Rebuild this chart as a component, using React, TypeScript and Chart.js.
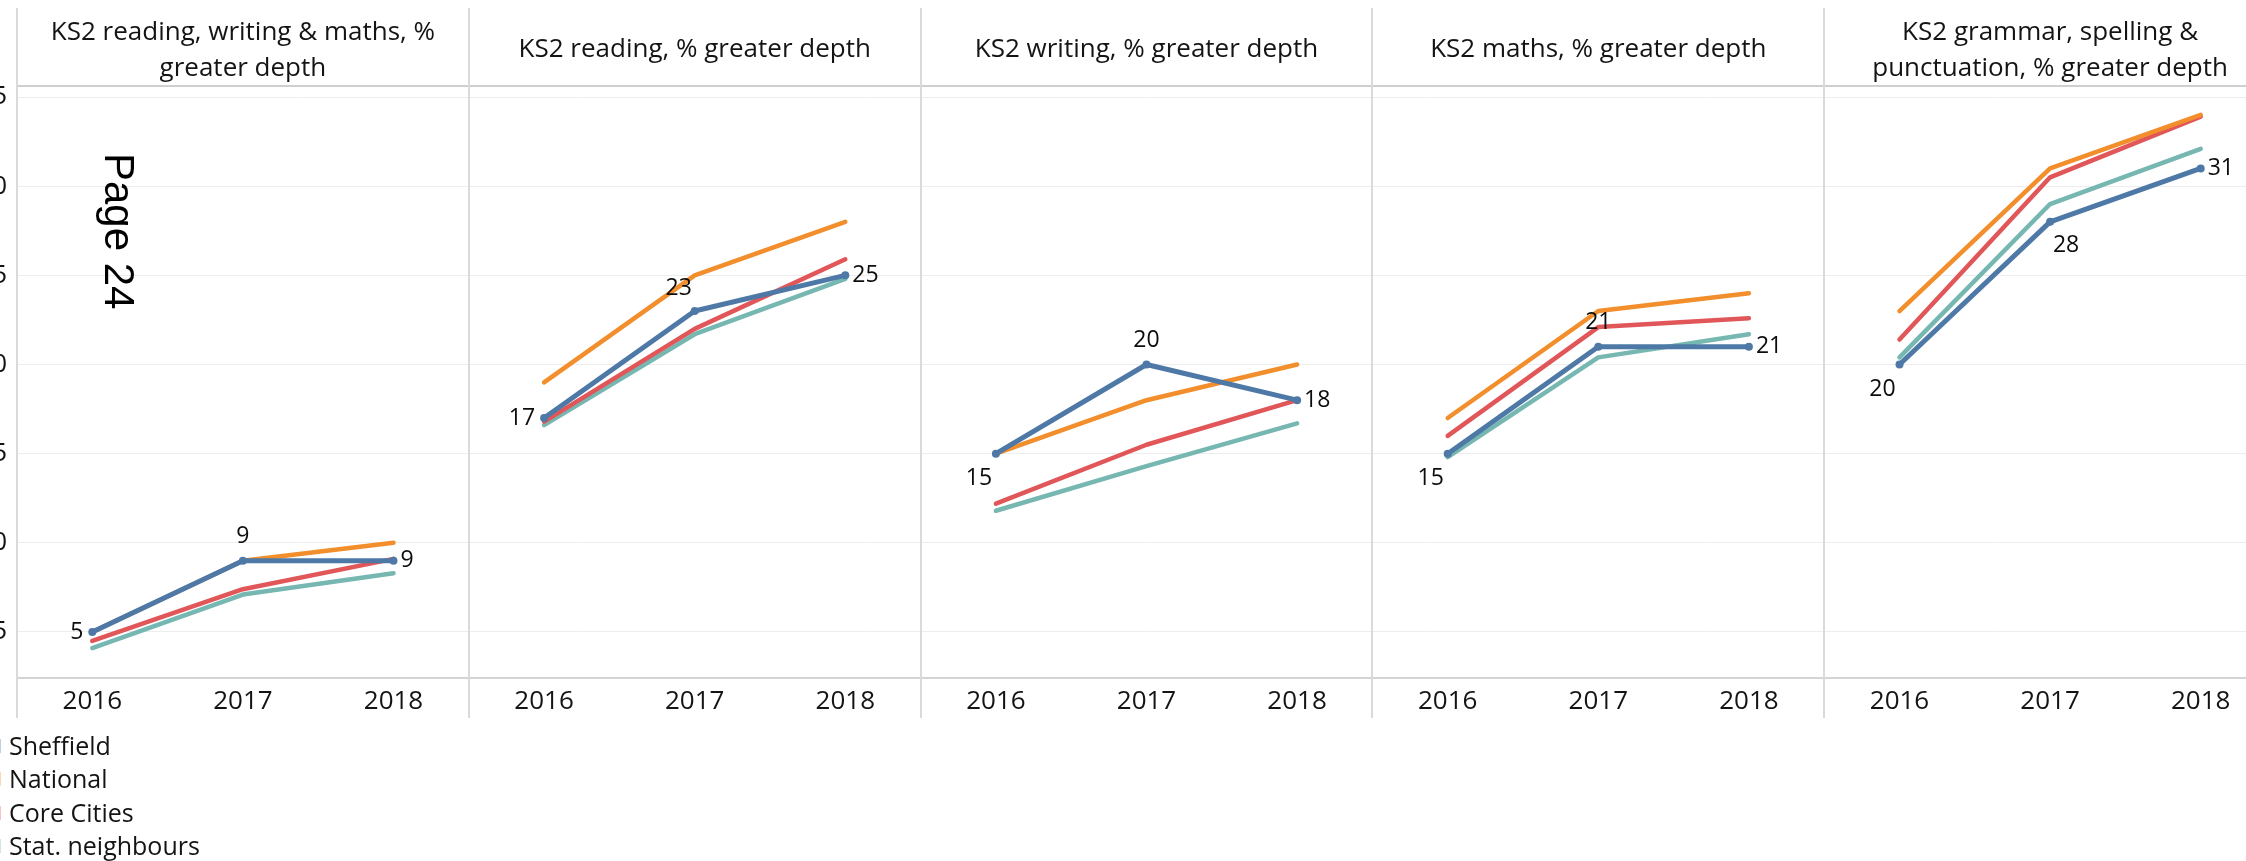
import React, { useEffect, useRef } from "react";
import { Chart, registerables } from "chart.js";

Chart.register(...registerables);

// ---------- data ----------
const years = ["2016", "2017", "2018"];
const panelTitles = [
  ["KS2 reading, writing & maths, %", "greater depth"],
  ["KS2 reading, % greater depth"],
  ["KS2 writing, % greater depth"],
  ["KS2 maths, % greater depth"],
  ["KS2 grammar, spelling &", "punctuation, % greater depth"],
];
const seriesNames = ["Sheffield", "National", "Core Cities", "Stat. neighbours"];
// one [2016, 2017, 2018] triple per panel
const sheffield = [[5, 9, 9], [17, 23, 25], [15, 20, 18], [15, 21, 21], [20, 28, 31]];
const national = [[5, 9, 10], [19, 25, 28], [15, 18, 20], [17, 23, 24], [23, 31, 34]];
const coreCities = [[4.5, 7.4, 9.1], [16.8, 22, 25.9], [12.2, 15.5, 18], [16, 22.1, 22.6], [21.4, 30.5, 33.9]];
const statNeighbours = [[4.1, 7.1, 8.3], [16.6, 21.7, 24.8], [11.8, 14.3, 16.7], [14.8, 20.4, 21.7], [20.4, 29, 32.1]];
const yMin = 2.42;
const yMax = 35.62;
const yStep = 5;
const pageLabel = "Page 24";

// ---------- style ----------
const seriesColors = ["#4e79a7", "#f28e2b", "#e15759", "#76b7b2"];
const FONT = "'Open Sans', 'Noto Sans', sans-serif";
const TEXT = "#141414";
const SHIFT = 60; // canvas starts this many px left of the page
const CW = 2340;
const CH = 861;
const labelPlacement = [
  ["left", "above", "right"],
  ["left", "aboveLeft", "right"],
  ["belowLeft", "above", "right"],
  ["belowLeft", "above", "right"],
  ["belowLeft", "belowRight", "right"],
];
const placeOffsets: Record<string, [number, number, CanvasTextAlign]> = {
  left: [-9, 0, "right"],
  right: [7, 0, "left"],
  above: [0, -24, "center"],
  aboveLeft: [-16, -23, "center"],
  belowLeft: [-17, 25, "center"],
  belowRight: [16, 24, "center"],
};

const seriesData = [sheffield, national, coreCities, statNeighbours];
const categoryKeys = panelTitles.flatMap((_, p) => years.map((y) => `${p}|${y}`));

const decorPlugin = {
  id: "decor",
  beforeDatasetsDraw(chart: any) {
    const { ctx, chartArea, scales } = chart;
    const x = scales.x;
    const bw = x.getPixelForValue(1) - x.getPixelForValue(0);
    ctx.save();
    // header separator line
    ctx.strokeStyle = "#cfcfcf";
    ctx.lineWidth = 2;
    ctx.beginPath();
    ctx.moveTo(chartArea.left, chartArea.top);
    ctx.lineTo(chartArea.right, chartArea.top);
    ctx.stroke();
    // bottom axis line
    ctx.strokeStyle = "#d4d4d4";
    ctx.beginPath();
    ctx.moveTo(chartArea.left, chartArea.bottom);
    ctx.lineTo(chartArea.right, chartArea.bottom);
    ctx.stroke();
    // panel dividers
    ctx.strokeStyle = "#dadada";
    ctx.lineWidth = 2;
    for (let p = 0; p <= panelTitles.length; p++) {
      const px = Math.round(x.getPixelForValue(p * 3) - bw / 2);
      ctx.beginPath();
      ctx.moveTo(px, 8);
      ctx.lineTo(px, 718);
      ctx.stroke();
    }
    // titles
    ctx.fillStyle = TEXT;
    ctx.font = `26px ${FONT}`;
    ctx.textAlign = "center";
    ctx.textBaseline = "alphabetic";
    panelTitles.forEach((lines, p) => {
      const cx = x.getPixelForValue(p * 3 + 1);
      if (lines.length === 1) {
        ctx.fillText(lines[0], cx, 57);
      } else {
        ctx.fillText(lines[0], cx, 40);
        ctx.fillText(lines[1], cx, 76);
      }
    });
    // legend (swatches mostly clipped at the page edge)
    ctx.textAlign = "left";
    ctx.font = `25px ${FONT}`;
    const baselines = [755, 788, 822, 855];
    seriesNames.forEach((name, i) => {
      ctx.globalAlpha = 0.35;
      ctx.fillStyle = seriesColors[i];
      ctx.fillRect(SHIFT - 12, baselines[i] - 16, 13, 14);
      ctx.globalAlpha = 1;
      ctx.fillStyle = TEXT;
      ctx.fillText(name, SHIFT + 9, baselines[i]);
    });
    // page marker
    ctx.save();
    ctx.translate(SHIFT + 105, 153);
    ctx.rotate(Math.PI / 2);
    ctx.font = "42px 'Liberation Sans', Arial, sans-serif";
    ctx.fillStyle = "#000";
    ctx.textAlign = "left";
    ctx.textBaseline = "alphabetic";
    ctx.fillText(pageLabel, 0, 0);
    ctx.restore();
    ctx.restore();
  },
  afterDatasetsDraw(chart: any) {
    const { ctx } = chart;
    const meta = chart.getDatasetMeta(0);
    ctx.save();
    ctx.font = `23px ${FONT}`;
    ctx.fillStyle = "#0c0c0c";
    ctx.textBaseline = "middle";
    meta.data.forEach((pt: any, i: number) => {
      const p = Math.floor(i / 3);
      const place = labelPlacement[p][i % 3];
      const [dx, dy, align] = placeOffsets[place];
      ctx.textAlign = align;
      const v = seriesData[0][p][i % 3];
      ctx.fillText(String(v), pt.x + dx, pt.y + dy);
    });
    ctx.restore();
  },
};

export default function App() {
  const ref = useRef<HTMLCanvasElement>(null);
  useEffect(() => {
    if (!ref.current) return;
    const chart = new Chart(ref.current, {
      type: "line",
      data: {
        labels: categoryKeys,
        datasets: seriesData.map((d, i) => ({
          label: seriesNames[i],
          data: d.flat(),
          borderColor: seriesColors[i],
          backgroundColor: seriesColors[i],
          borderWidth: i === 0 ? 5 : 4.5,
          pointRadius: i === 0 ? 4 : 0,
          pointHoverRadius: 0,
          pointBorderWidth: 0,
          borderCapStyle: "round",
          borderJoinStyle: "round",
          tension: 0,
          fill: false,
          segment: {
            borderColor: (c: any) => (c.p0DataIndex % 3 === 2 ? "rgba(0,0,0,0)" : undefined),
          },
        })),
      },
      options: {
        responsive: false,
        animation: false,
        devicePixelRatio: 1,
        events: [],
        layout: { padding: { top: 86, bottom: 141, left: 0, right: 0 } },
        plugins: { legend: { display: false }, tooltip: { enabled: false } },
        scales: {
          x: {
            type: "category",
            offset: true,
            grid: { display: false, drawTicks: false },
            border: { display: false },
            ticks: {
              autoSkip: false,
              maxRotation: 0,
              padding: 8,
              color: TEXT,
              font: { family: FONT, size: 26 },
              callback: (_v: any, i: number) => years[i % 3],
            },
            afterFit: (s: any) => {
              s.height = 42;
            },
          },
          y: {
            min: yMin,
            max: yMax,
            grid: { color: "#ededed", lineWidth: 1, drawTicks: false },
            border: { display: false },
            ticks: {
              stepSize: yStep,
              includeBounds: false,
              padding: 10,
              color: TEXT,
              font: { family: FONT, size: 26 },
            },
            afterFit: (s: any) => {
              s.width = SHIFT + 17;
            },
          },
        },
      },
      plugins: [decorPlugin],
    } as any);
    return () => chart.destroy();
  }, []);
  return (
    <div style={{ position: "fixed", inset: 0, overflow: "hidden", background: "#fff" }}>
      <canvas
        ref={ref}
        width={CW}
        height={CH}
        style={{ position: "absolute", left: -SHIFT, top: 0, width: CW, height: CH }}
      />
    </div>
  );
}
